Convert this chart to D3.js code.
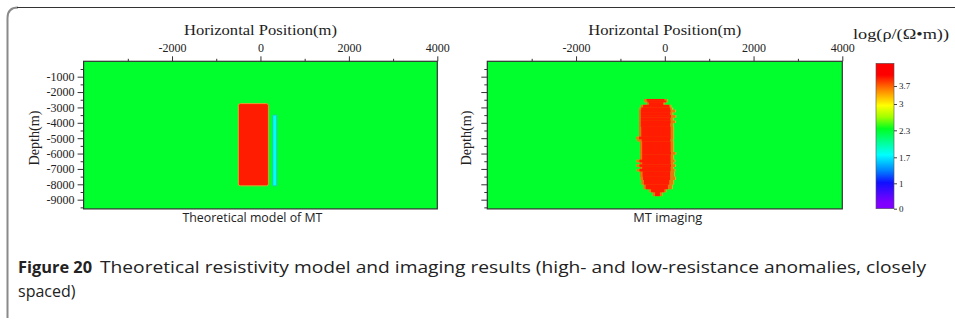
<!DOCTYPE html>
<html>
<head>
<meta charset="utf-8">
<script src="https://cdn.jsdelivr.net/npm/d3@7"></script>
<style>
  html, body { margin: 0; padding: 0; background: #fff; }
  svg { display: block; }
  .serif { font-family: "Liberation Serif", "DejaVu Serif", serif; fill: #222; }
  .sans { font-family: "Open Sans", "Noto Sans", sans-serif; fill: #222; }
</style>
</head>
<body>
<svg id="fig" width="955" height="320"></svg>
<script>
// ---- axis ticks (metres) ----
const xTickValues = [-2000, 0, 2000, 4000];
const xMinorTicks = [-3000, -1000, 1000, 3000];
const yTickValues = [-1000, -2000, -3000, -4000, -5000, -6000, -7000, -8000, -9000];
const yMinorTicks = [-500, -1500, -2500, -3500, -4500, -5500, -6500, -7500, -8500, -9500];

// ---- colour bar: log10 resistivity ticks ----
const cbTicks = [0, 1, 1.7, 2.3, 3, 3.7];

// ---- theoretical model (log10 resistivity) ----
const backgroundLog = 2.3;
const modelNames = ["high", "low"];
const modelX0 = [-500, 280];
const modelX1 = [180, 370];
const modelTop = [-2750, -3500];
const modelBottom = [-8100, -8100];
const modelLog = [4.0, 1.75];

// ---- inversion image: anomaly outline by depth slice ----
const imgRowTop    = [-2450,-2550,-2650,-2830,-3000,-3150,-3300,-3500,-3650,-3850,-4000,-4250,-4900,-5050,-5200,-5900,-6050,-6400,-6550,-6700,-6850,-7000,-7150,-7500,-7700,-8000,-8300,-8500];
const imgRowBottom = [-2550,-2650,-2830,-3000,-3150,-3300,-3500,-3650,-3850,-4000,-4250,-4900,-5050,-5200,-5900,-6050,-6400,-6550,-6700,-6850,-7000,-7150,-7500,-7700,-8000,-8300,-8500,-8750];
// yellow fringe right edge
const imgRimR  = [  60,  70,   0, 150, 190, 250, 190, 260, 200, 250, 200, 210, 210, 200, 210, 260, 210, 240, 210, 250, 210, 240, 230, 250, 210, 180,  40, -50];
// orange halo
const imgHaloL = [-470,-460,-400,-540,-570,-580,-580,-580,-580,-580,-580,-580,-650,-620,-560,-560,-560,-640,-560,-640,-560,-630,-560,-550,-530,-480,-350,-270];
const imgHaloR = [  50,  60, -10, 130, 160, 230, 170, 240, 180, 230, 180, 190, 190, 180, 190, 240, 190, 220, 190, 230, 190, 220, 210, 230, 190, 160,  30, -60];
// red core
const imgCoreL = [-410,-390,-360,-490,-530,-540,-540,-540,-540,-540,-540,-530,-580,-520,-510,-510,-510,-570,-510,-570,-510,-570,-500,-490,-470,-430,-310,-220];
const imgCoreR = [ -10,  30, -40, 100, 120, 130, 120, 140, 125, 130, 120, 130, 130, 120, 130, 140, 130, 130, 130, 140, 130, 130, 120, 120, 100,  70, -10,-110];
const haloLog = 3.6, coreLog = 4.0;

const svg = d3.select("#fig");

// ---- outer frame ----
svg.append("path")
  .attr("d", "M7.5,318 L7.5,18 Q7.5,7.5 18,7.5")
  .attr("fill", "none").attr("stroke", "#8a8a8a").attr("stroke-width", 2);
svg.append("path")
  .attr("d", "M17,7.5 L955,7.5")
  .attr("fill", "none").attr("stroke", "#333").attr("stroke-width", 1.2);

// ---- colour mapping ----
const cbTop = 63.3, cbBottom = 208.7, cbX = 876, cbW = 18;
const cbPos = d3.scaleLinear()
  .domain([0, 1, 1.7, 2.3, 3, 3.7, 4.6])
  .range([cbBottom, 183.3, 157.3, 130.3, 104, 86, cbTop]);
const fracStops = [0, 0.04, 0.18, 0.26, 0.37, 0.55, 0.63, 0.71, 0.82, 0.92, 1];
const fracColors = ["#8000ff", "#8000ff", "#1010ff", "#0080ff", "#00ffff", "#00ff20", "#a0ff00", "#ffff00", "#ff8000", "#ff0000", "#ff0000"];
const fracColor = d3.scaleLinear().domain(fracStops).range(fracColors).clamp(true);
const colorOf = v => fracColor((cbBottom - cbPos(v)) / (cbBottom - cbTop));

const defs = svg.append("defs");
defs.append("filter").attr("id", "soft")
  .attr("x", "-20%").attr("y", "-20%").attr("width", "140%").attr("height", "140%")
  .append("feGaussianBlur").attr("stdDeviation", 0.55);

const yScale = d3.scaleLinear().domain([0, -9600]).range([61.3, 208.9]);
const fmt = d => String(d);

function panel(x0, x1, opts) {
  const x = d3.scaleLinear().domain([-4000, 4000]).range([x0, x1]);
  const g = svg.append("g");
  const clipId = "clip" + Math.round(x0);
  defs.append("clipPath").attr("id", clipId).append("rect")
    .attr("x", x0).attr("y", yScale(0)).attr("width", x1 - x0).attr("height", yScale(-9600) - yScale(0));

  // background half-space
  g.append("rect")
    .attr("x", x0).attr("y", yScale(0))
    .attr("width", x1 - x0).attr("height", yScale(-9600) - yScale(0))
    .attr("fill", colorOf(backgroundLog));

  const body = g.append("g").attr("clip-path", `url(#${clipId})`);
  opts.draw(body, x);

  // frame
  g.append("rect")
    .attr("x", x0).attr("y", yScale(0))
    .attr("width", x1 - x0).attr("height", yScale(-9600) - yScale(0))
    .attr("fill", "none").attr("stroke", "#333").attr("stroke-width", 1.2);

  // top axis
  const ax = g.append("g").attr("transform", `translate(0,${yScale(0)})`)
    .call(d3.axisTop(x).tickValues(xTickValues).tickSize(5).tickPadding(4).tickFormat(fmt));
  ax.select(".domain").remove();
  ax.selectAll("text").attr("class", "serif").attr("font-size", 12).attr("fill", "#333");
  ax.selectAll("line").attr("stroke", "#333");
  const axm = g.append("g").attr("transform", `translate(0,${yScale(0)})`)
    .call(d3.axisTop(x).tickValues(xMinorTicks).tickSize(2.5).tickFormat(""));
  axm.select(".domain").remove();
  axm.selectAll("line").attr("stroke", "#333");

  // left axis
  const ay = g.append("g").attr("transform", `translate(${x0},0)`)
    .call(d3.axisLeft(yScale).tickValues(yTickValues).tickSize(6).tickPadding(3).tickFormat(opts.yLabels ? fmt : ""));
  ay.select(".domain").remove();
  ay.selectAll("text").attr("class", "serif").attr("font-size", 12).attr("fill", "#333");
  ay.selectAll("line").attr("stroke", "#333");
  const aym = g.append("g").attr("transform", `translate(${x0},0)`)
    .call(d3.axisLeft(yScale).tickValues(yMinorTicks).tickSize(3).tickFormat(""));
  aym.select(".domain").remove();
  aym.selectAll("line").attr("stroke", "#333");

  // titles
  const cx = (x0 + x1) / 2;
  g.append("text").attr("class", "serif")
    .attr("x", cx).attr("y", 35).attr("text-anchor", "middle")
    .attr("font-size", 14).attr("textLength", 153).attr("lengthAdjust", "spacingAndGlyphs")
    .attr("fill", "#333")
    .text("Horizontal Position(m)");
  g.append("text").attr("class", "serif")
    .attr("transform", `translate(${opts.yLabelX},138) rotate(-90)`)
    .attr("text-anchor", "middle").attr("dy", "0.35em")
    .attr("font-size", 14).attr("textLength", 55).attr("lengthAdjust", "spacingAndGlyphs")
    .attr("fill", "#333")
    .text("Depth(m)");
  g.append("text").attr("class", "sans")
    .attr("x", cx - 8 + opts.subShift).attr("y", 222).attr("text-anchor", "middle")
    .attr("font-size", 12.5).attr("textLength", opts.subLen).attr("lengthAdjust", "spacingAndGlyphs")
    .text(opts.subtitle);
}

// Left: theoretical model
panel(83.6, 437.3, {
  yLabels: true, yLabelX: 34, subtitle: "Theoretical model of MT", subLen: 140, subShift: 0,
  draw(body, x) {
    const idx = d3.range(modelNames.length);
    body.selectAll("rect.model").data(idx).join("rect")
      .attr("class", "model")
      .attr("x", i => x(modelX0[i]))
      .attr("y", i => yScale(modelTop[i]))
      .attr("width", i => x(modelX1[i]) - x(modelX0[i]))
      .attr("height", i => yScale(modelBottom[i]) - yScale(modelTop[i]))
      .attr("rx", i => i === 0 ? 2 : 0.5)
      .attr("fill", i => colorOf(modelLog[i]))
      .attr("stroke", i => i === 0 ? "#e0a030" : "#20c8b0")
      .attr("stroke-width", 1)
      .attr("filter", "url(#soft)");
  }
});

// Right: inversion result
panel(487.3, 842.3, {
  yLabels: false, yLabelX: 466, subtitle: "MT imaging", subLen: 69, subShift: 11,
  draw(body, x) {
    const rows = d3.range(imgRowTop.length);
    const blob = body.append("g").attr("filter", "url(#soft)");
    const band = (cls, L, R, fill) => blob.selectAll("rect." + cls).data(rows).join("rect")
      .attr("class", cls)
      .attr("x", i => x(L[i]))
      .attr("y", i => yScale(imgRowTop[i]))
      .attr("width", i => Math.max(0, x(R[i]) - x(L[i])))
      .attr("height", i => yScale(imgRowBottom[i]) - yScale(imgRowTop[i]) + 0.3)
      .attr("fill", fill);
    band("rim", imgHaloL, imgRimR, "#c8c828");
    band("halo", imgHaloL, imgHaloR, d3.interpolateRgb(colorOf(haloLog), "#a08020")(0.35));
    band("core", imgCoreL, imgCoreR, colorOf(coreLog));
  }
});

// ---- colour bar ----
const grad = defs.append("linearGradient").attr("id", "cbGrad")
  .attr("x1", 0).attr("y1", 1).attr("x2", 0).attr("y2", 0);
grad.selectAll("stop").data(fracStops).join("stop")
  .attr("offset", d => d)
  .attr("stop-color", (d, i) => fracColors[i]);
svg.append("rect").attr("x", cbX).attr("y", cbTop).attr("width", cbW).attr("height", cbBottom - cbTop)
  .attr("fill", "url(#cbGrad)").attr("stroke", "#555").attr("stroke-width", 0.6);
const cbAxis = svg.append("g").attr("transform", `translate(${cbX + cbW},0)`)
  .call(d3.axisRight(cbPos).tickValues(cbTicks).tickSize(3).tickPadding(2).tickFormat(d => String(d)));
cbAxis.select(".domain").remove();
cbAxis.selectAll("line").attr("stroke", "#444");
cbAxis.selectAll("text").attr("class", "serif").attr("font-size", 9).attr("fill", "#333");
svg.append("text").attr("class", "serif")
  .attr("x", 853).attr("y", 39).attr("font-size", 14).attr("fill", "#333")
  .attr("textLength", 96).attr("lengthAdjust", "spacingAndGlyphs")
  .text("log(ρ/(Ω•m))");

// ---- caption ----
svg.append("text").attr("class", "sans")
  .attr("x", 18).attr("y", 273).attr("font-size", 16).attr("font-weight", 700)
  .attr("textLength", 74).attr("lengthAdjust", "spacingAndGlyphs")
  .text("Figure 20");
svg.append("text").attr("class", "sans")
  .attr("x", 100).attr("y", 273).attr("font-size", 16)
  .attr("textLength", 826).attr("lengthAdjust", "spacingAndGlyphs")
  .text("Theoretical resistivity model and imaging results (high- and low-resistance anomalies, closely");
svg.append("text").attr("class", "sans")
  .attr("x", 18).attr("y", 297).attr("font-size", 16)
  .text("spaced)");
</script>
</body>
</html>
